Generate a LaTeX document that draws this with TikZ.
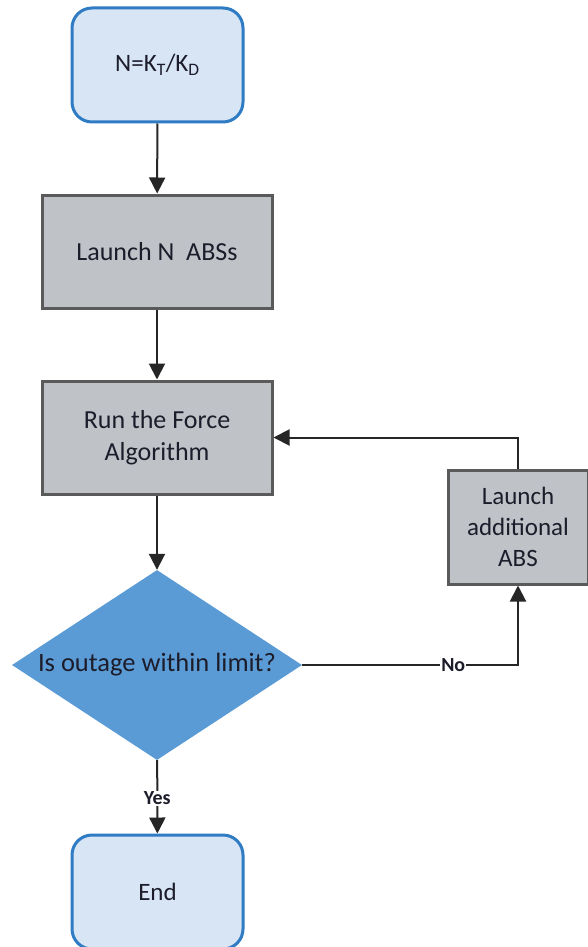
\documentclass[tikz,border=0pt]{standalone}
\usepackage{fontspec}
\setmainfont{Carlito}
\usetikzlibrary{shapes.geometric,arrows.meta}
\definecolor{termfill}{HTML}{D7E5F4}
\definecolor{termline}{HTML}{2F7BC4}
\definecolor{procfill}{HTML}{BFC3C8}
\definecolor{procline}{HTML}{5A5A5A}
\definecolor{decfill}{HTML}{5B9BD5}
\definecolor{wire}{HTML}{262626}
\definecolor{ink}{HTML}{1C1C2A}
\tikzset{
  terminal/.style={draw=termline, line width=3pt, fill=termfill, rounded corners=20pt,
    minimum width=171pt, minimum height=114pt, inner sep=0pt, text=ink,
    font=\fontsize{25}{30}\selectfont},
  process/.style={draw=procline, line width=3pt, fill=procfill,
    minimum width=230pt, minimum height=113pt, inner sep=0pt, text=ink, align=center,
    font=\fontsize{26}{32}\selectfont},
  decision/.style={diamond, fill=decfill, minimum width=290pt, minimum height=190pt, inner sep=0pt},
  flow/.style={draw=wire, line width=2pt, -{Triangle[width=16pt,length=16pt]}},
  lbl/.style={fill=white, inner sep=1pt, text=ink, font=\fontsize{20}{24}\selectfont\bfseries}
}
\begin{document}
\begin{tikzpicture}[x=1pt,y=-1pt]
  \useasboundingbox (0,0) rectangle (587,947);
  % nodes
  \node[terminal] (start) at (157.5,65) {N=K\textsubscript{T}/K\textsubscript{D}};
  \node[process] (launch) at (157,251.5) {Launch N\ \ ABSs};
  \node[process] (run) at (157,437.5) {Run the Force\\Algorithm};
  \node[decision] (dec) at (157,665) {};
  \node[text=ink, font=\fontsize{26.5}{30}\selectfont] (dectext) at (157,665) {Is outage within limit?};
  \node[process, minimum width=140pt, minimum height=114pt, font=\fontsize{25}{31}\selectfont]
    (add) at (518,527) {Launch\\additional\\ABS};
  \node[terminal] (finish) at (157.5,892) {End};
  % connectors
  \draw[flow] (start) -- (launch);
  \draw[flow] (launch) -- (run);
  \draw[flow] (run) -- (dec);
  \draw[flow] (dec) -- node[lbl, pos=0.52]{Yes} (finish);
  \draw[flow] (dec.east) -| node[lbl, pos=0.35]{No} (add.south);
  \draw[flow] (add.north) |- (run.east);
\end{tikzpicture}
\end{document}
